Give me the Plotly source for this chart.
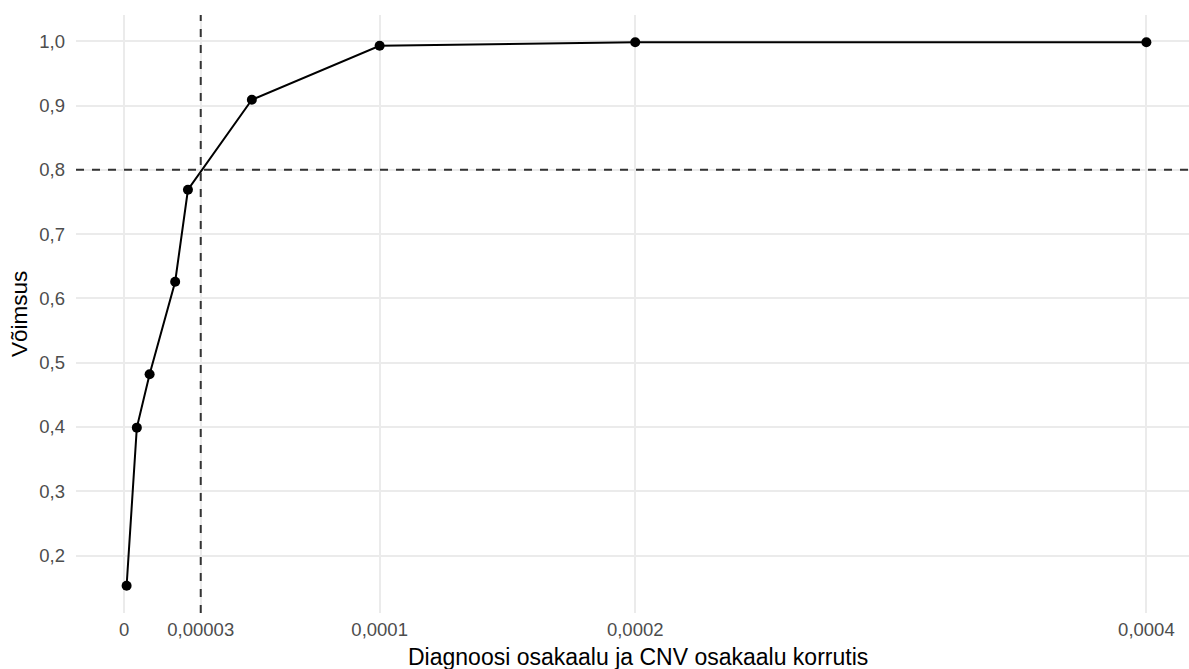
import plotly.graph_objects as go

# Product of diagnosis share and CNV share vs. statistical power
korrutis = [0.000001, 0.000005, 0.00001, 0.00002, 0.000025, 0.00005, 0.0001, 0.0002, 0.0004]
voimsus = [0.153, 0.399, 0.482, 0.626, 0.769, 0.909, 0.993, 0.9985, 0.9985]

x_ticks = [0, 0.00003, 0.0001, 0.0002, 0.0004]
x_tick_labels = ["0", "0,00003", "0,0001", "0,0002", "0,0004"]
y_ticks = [0.2, 0.3, 0.4, 0.5, 0.6, 0.7, 0.8, 0.9, 1.0]
y_tick_labels = ["0,2", "0,3", "0,4", "0,5", "0,6", "0,7", "0,8", "0,9", "1,0"]

power_threshold = 0.8
product_threshold = 0.00003

FONT = "Liberation Sans, Arial, sans-serif"
GRID = "#EBEBEB"
REF_LINE = "#333333"

fig = go.Figure()
fig.add_trace(go.Scatter(
    x=korrutis, y=voimsus, mode="lines+markers",
    line=dict(color="black", width=2),
    marker=dict(color="black", size=10),
    hoverinfo="x+y", showlegend=False,
))

fig.add_hline(y=power_threshold, line=dict(color=REF_LINE, width=2, dash="8px,8px"))
fig.add_vline(x=product_threshold, line=dict(color=REF_LINE, width=2, dash="8px,8px"))

fig.update_layout(
    width=1189, height=669,
    margin=dict(l=76, r=0, t=15, b=56),
    paper_bgcolor="white", plot_bgcolor="white",
    font=dict(family=FONT, color="black"),
    xaxis=dict(
        range=[-0.0000188, 0.00041667],
        tickvals=x_ticks, ticktext=x_tick_labels,
        showgrid=True, gridcolor=GRID, gridwidth=2,
        zeroline=False, showline=False,
        ticks="", ticklabelstandoff=3,
        tickfont=dict(size=18.5, color="#4D4D4D", family=FONT),
    ),
    yaxis=dict(
        range=[0.1107, 1.0408],
        tickvals=y_ticks, ticktext=y_tick_labels,
        showgrid=True, gridcolor=GRID, gridwidth=2,
        zeroline=False, showline=False,
        ticks="", ticklabelstandoff=10,
        tickfont=dict(size=18.5, color="#4D4D4D", family=FONT),
    ),
    annotations=[
        dict(text="Diagnoosi osakaalu ja CNV osakaalu korrutis",
             xref="paper", yref="paper", x=0.5, y=0, yshift=-44, xshift=5,
             xanchor="center", yanchor="middle", showarrow=False,
             font=dict(size=23, color="black", family=FONT)),
        dict(text="Võimsus", textangle=-90,
             xref="paper", yref="paper", x=0, y=0.5, xshift=-57,
             xanchor="center", yanchor="middle", showarrow=False,
             font=dict(size=22.5, color="black", family=FONT)),
    ],
)

fig.write_html("out.html")
